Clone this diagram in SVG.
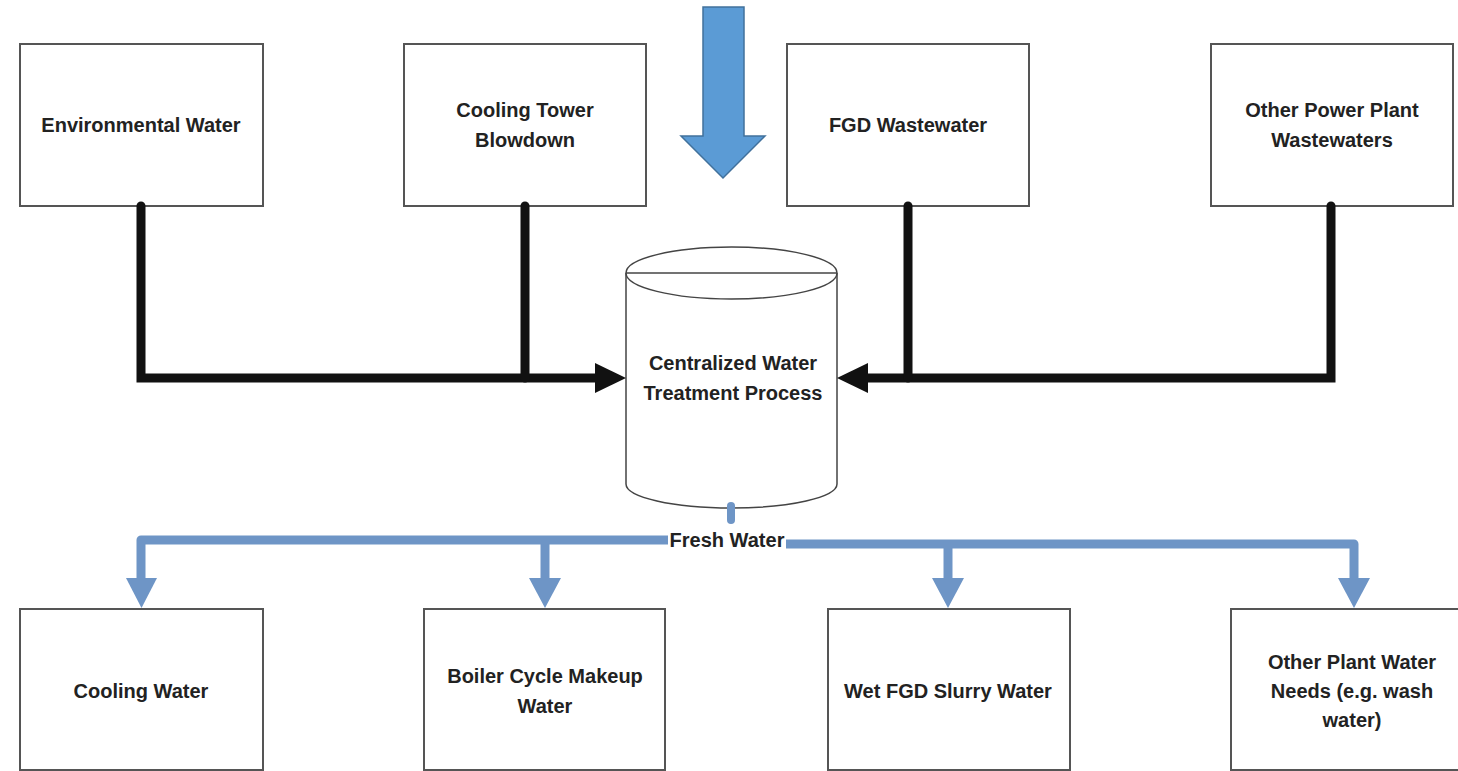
<svg xmlns="http://www.w3.org/2000/svg" width="1458" height="771" viewBox="0 0 1458 771">
<style>
.box{fill:#fff;stroke:#555;stroke-width:2}
.t{font-family:"Liberation Sans",Arial,sans-serif;font-size:20px;font-weight:bold;fill:#222;text-anchor:middle}
.blk{fill:none;stroke:#111;stroke-width:9;stroke-linecap:round;stroke-linejoin:miter}
.blu{fill:none;stroke:#6E95C6;stroke-width:9;stroke-linejoin:round}
</style>
<rect width="1458" height="771" fill="#fff"/>
<g id="environmental-water"><rect class="box" x="20" y="44" width="243" height="162"/><text class="t" x="141" y="132">Environmental Water</text></g>
<g id="cooling-tower-blowdown"><rect class="box" x="404" y="44" width="242" height="162"/><text class="t" x="525" y="117">Cooling Tower</text><text class="t" x="525" y="147">Blowdown</text></g>
<g id="fgd-wastewater"><rect class="box" x="787" y="44" width="242" height="162"/><text class="t" x="908" y="132">FGD Wastewater</text></g>
<g id="other-power-plant"><rect class="box" x="1211" y="44" width="242" height="162"/><text class="t" x="1332" y="117">Other Power Plant</text><text class="t" x="1332" y="147">Wastewaters</text></g>
<g id="input-arrow"><polygon points="703,7 744,7 744,136 765,136 723,178 681,136 703,136" fill="#5B9BD5" stroke="#41719C" stroke-width="1.5"/></g>
<g id="treatment">
<path d="M626,273 L626,484 A105.5,24 0 0 0 837,484 L837,273" fill="#fff" stroke="#444" stroke-width="1.5"/>
<ellipse cx="731.5" cy="273" rx="105.5" ry="26" fill="#fff" stroke="#444" stroke-width="1.5"/>
<line x1="626" y1="273" x2="837" y2="273" stroke="#444" stroke-width="1.5"/>
<text class="t" x="733" y="370">Centralized Water</text><text class="t" x="733" y="400">Treatment Process</text>
</g>
<g id="connectors">
<polyline class="blk" points="141,206 141,378 598,378"/>
<polyline class="blk" points="525,206 525,378"/>
<polygon points="595,363 626,378 595,393" fill="#111"/>
<polyline class="blk" points="1331,206 1331,378 866,378"/>
<polyline class="blk" points="908,206 908,378"/>
<polygon points="868,363 837,378 868,393" fill="#111"/>
<line x1="731" y1="506" x2="731" y2="520" stroke="#6E95C6" stroke-width="8" stroke-linecap="round"/>
<polyline class="blu" points="668,540 141,540 141,582"/>
<polyline class="blu" points="545,540 545,582"/>
<polyline class="blu" points="786,544 1354,544 1354,582"/>
<polyline class="blu" points="948,544 948,582"/>
<polygon points="126,578 157,578 141.5,608" fill="#6E95C6"/>
<polygon points="529,578 561,578 545,608" fill="#6E95C6"/>
<polygon points="932,578 964,578 948,608" fill="#6E95C6"/>
<polygon points="1338,578 1370,578 1354,608" fill="#6E95C6"/>
<text class="t" x="727" y="547">Fresh Water</text>
</g>
<g id="cooling-water"><rect class="box" x="20" y="609" width="243" height="161"/><text class="t" x="141" y="698">Cooling Water</text></g>
<g id="boiler-makeup"><rect class="box" x="424" y="609" width="241" height="161"/><text class="t" x="545" y="683">Boiler Cycle Makeup</text><text class="t" x="545" y="713">Water</text></g>
<g id="wet-fgd"><rect class="box" x="828" y="609" width="242" height="161"/><text class="t" x="948" y="698">Wet FGD Slurry Water</text></g>
<g id="other-plant-needs"><rect class="box" x="1231" y="609" width="242" height="161"/><text class="t" x="1352" y="669">Other Plant Water</text><text class="t" x="1352" y="698">Needs (e.g. wash</text><text class="t" x="1352" y="727">water)</text></g>
</svg>
